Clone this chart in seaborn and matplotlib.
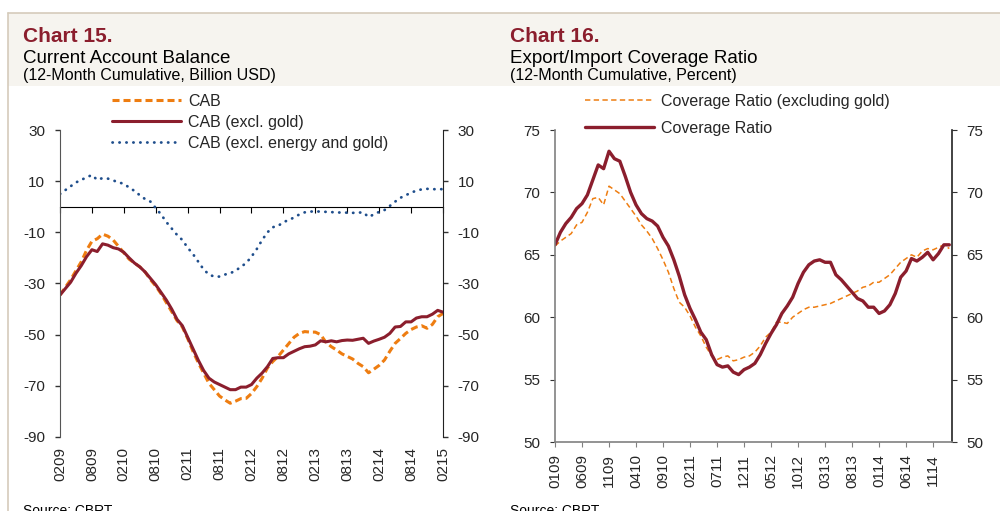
import matplotlib
matplotlib.use('Agg')
import matplotlib.pyplot as plt
import seaborn as sns
import pandas as pd
import numpy as np
from matplotlib.patches import Rectangle
from matplotlib.lines import Line2D

sns.set_style('white')
plt.rcParams['font.family'] = ['Liberation Sans', 'DejaVu Sans']
plt.rcParams['axes.unicode_minus'] = False

COLOR_RED = '#8B1E2D'
COLOR_ORANGE = '#EE7D11'
COLOR_BLUE = '#1F4E8C'
COLOR_HEADER = '#F6F4EF'
COLOR_BORDER = '#D5CBBB'
COLOR_GRAY = '#808080'

# ----------------------------------------------------
# Chart 15: Current Account Balance (monthly, 02/2009 - 02/2015)
# ----------------------------------------------------
cab = [-34.5, -31.5, -28.5, -25, -21.5, -17, -13.5, -12.5, -10.7, -11.5, -13, -15.5,
       -18, -20.5, -22, -23.5, -25.5, -28.5, -31, -34, -37.5, -41, -44.5, -47,
       -51.5, -56.5, -61, -65, -69, -71.5, -74, -75.5, -76.8, -76, -75, -74.9,
       -73, -70.3, -67, -63, -60.5, -58.5, -56, -53.5, -51, -49.5, -48.8, -49,
       -49, -50, -53, -54.7, -56, -57.5, -58.5, -59.5, -61.2, -62.5, -64.9, -63.5,
       -62, -59.9, -56.5, -53.4, -51.5, -49.5, -48, -47, -46.5, -47.5, -46, -43, -41.7]
cab_ex_gold = [-34.5, -32, -29.5, -26, -23, -19.5, -16.8, -17.5, -14.5, -15, -16, -16.5,
               -17.8, -20, -22, -23.5, -25.5, -28, -30.5, -33.5, -36.5, -40, -44, -46.5,
               -51, -55.5, -60, -64, -67, -68.5, -69.5, -70.5, -71.5, -71.5, -70.5, -70.5,
               -69.5, -67, -65, -62.5, -59.3, -59, -59, -57.5, -56.5, -55.5, -54.7, -54.5,
               -54, -52.4, -52.8, -52.4, -52.8, -52.3, -52.1, -52.2, -51.8, -51.4, -53.4, -52.5,
               -51.8, -51, -49.5, -47, -46.8, -45, -45, -43.5, -43, -43, -42, -40.5, -41.2]
cab_ex_energy_gold = [5, 6.5, 8, 9.5, 10.5, 11.5, 12.4, 10.5, 11.2, 11, 10.3, 9.5,
                      9, 7.5, 6.2, 4.5, 3, 2, -0.5, -3, -6, -8.5, -11, -13,
                      -16, -18.5, -21.5, -24.5, -26.5, -27.3, -27.3, -26.5, -26, -25, -23.5, -22,
                      -19.5, -16.5, -13, -10, -8, -7.5, -6, -5.2, -4.2, -3, -2.2, -1.9,
                      -1.8, -1.9, -2, -2.1, -2.2, -2.3, -2.3, -2.4, -2.3, -2.2, -4, -3,
                      -2, -1.3, 0.3, 2, 3.5, 4.5, 5.5, 6.3, 6.8, 7, 6.9, 6.8, 6.9]
cab_ticklabels = ['0209', '0809', '0210', '0810', '0211', '0811', '0212',
                  '0812', '0213', '0813', '0214', '0814', '0215']

# ----------------------------------------------------
# Chart 16: Export/Import Coverage Ratio (monthly, 01/2009 - 02/2015)
# ----------------------------------------------------
cov_ex_gold = [65.7, 66.1, 66.4, 66.7, 67.4, 67.6, 68.4, 69.5, 69.6, 69, 70.5, 70.2,
               69.9, 69.3, 68.7, 68.1, 67.4, 66.9, 66.3, 65.5, 64.6, 63.6, 62.3, 61.2,
               60.8, 60.1, 59.2, 58.5, 57.6, 56.9, 56.6, 56.8, 56.9, 56.5, 56.6, 56.8,
               56.9, 57.2, 57.7, 58.4, 58.8, 59.6, 59.6, 59.5, 60, 60.3, 60.6, 60.8,
               60.8, 60.9, 61, 61.1, 61.3, 61.5, 61.7, 61.9, 62.1, 62.4, 62.5, 62.8,
               62.8, 63.1, 63.4, 63.9, 64.4, 64.7, 65, 64.8, 65.3, 65.5, 65.4, 65.6, 65.8, 65.5]
cov = [65.8, 66.8, 67.5, 68, 68.7, 69.1, 69.8, 71, 72.2, 71.9, 73.3, 72.7,
       72.5, 71.3, 70, 69, 68.3, 67.9, 67.7, 67.3, 66.4, 65.7, 64.6, 63.3,
       61.8, 60.7, 59.8, 58.8, 58.2, 57, 56.2, 56, 56.1, 55.6, 55.4, 55.8,
       56, 56.3, 57, 57.9, 58.7, 59.4, 60.3, 60.9, 61.6, 62.7, 63.6, 64.2,
       64.5, 64.6, 64.4, 64.4, 63.4, 63, 62.5, 62, 61.5, 61.3, 60.8, 60.8,
       60.3, 60.5, 61, 61.9, 63.2, 63.7, 64.7, 64.5, 64.8, 65.2, 64.6, 65.1, 65.8, 65.8]
cov_ticklabels = ['0109', '0609', '1109', '0410', '0910', '0211', '0711', '1211',
                  '0512', '1012', '0313', '0813', '0114', '0614', '1114']

H = 511.0
fig = plt.figure(figsize=(10, 5.11), dpi=100)

# header band and frame
fig.patches.append(Rectangle((0.008, 1 - 86 / H), 0.992, 73 / H, transform=fig.transFigure,
                             facecolor=COLOR_HEADER, edgecolor='none', zorder=0))
fig.add_artist(Line2D([0.008, 1], [1 - 13 / H] * 2, color=COLOR_BORDER, lw=1.2))
fig.add_artist(Line2D([0.008, 0.008], [0, 1 - 13 / H], color=COLOR_BORDER, lw=1.2))

# titles
for x0, num, title, sub in [(0.023, 'Chart 15.', 'Current Account Balance', '(12-Month Cumulative, Billion USD)'),
                            (0.510, 'Chart 16.', 'Export/Import Coverage Ratio', '(12-Month Cumulative, Percent)')]:
    fig.text(x0, 1 - 42 / H, num, fontsize=15, fontweight='bold', color=COLOR_RED, va='baseline')
    fig.text(x0, 1 - 63 / H, title, fontsize=13.5, color='black', va='baseline')
    fig.text(x0, 1 - 80 / H, sub, fontsize=11.5, color='black', va='baseline')
    fig.text(x0, 1 - 504 / H, 'Source: CBRT', fontsize=10, color='black', va='top')

# ---------------- left chart ----------------
ax1 = fig.add_axes([0.060, 1 - 437 / H, 0.383, 307 / H])
df1 = pd.DataFrame({'month': np.arange(len(cab)), 'CAB': cab,
                    'CAB (excl. gold)': cab_ex_gold,
                    'CAB (excl. energy and gold)': cab_ex_energy_gold})
sns.lineplot(data=df1, x='month', y='CAB', ax=ax1, color=COLOR_ORANGE, lw=2.2,
             linestyle=(0, (2.3, 1.3)), label='CAB')
sns.lineplot(data=df1, x='month', y='CAB (excl. gold)', ax=ax1, color=COLOR_RED, lw=2.2,
             label='CAB (excl. gold)')
sns.lineplot(data=df1, x='month', y='CAB (excl. energy and gold)', ax=ax1, color=COLOR_BLUE,
             lw=2.0, linestyle=(0, (0.1, 2.4)), dash_capstyle='round',
             label='CAB (excl. energy and gold)')

ax1.set_xlim(0, len(cab) - 1)
ax1.set_ylim(-90, 30)
ax1.set_yticks(np.arange(-90, 31, 20))
ax1.set_xticks(np.arange(0, len(cab), 6))
ax1.set_xticklabels(cab_ticklabels, rotation=90)
ax1.set_xlabel('')
ax1.set_ylabel('')
ax1.tick_params(axis='x', length=0, pad=7, labelsize=11)
ax1.tick_params(axis='y', left=True, right=True, labelleft=True, labelright=True,
                direction='out', length=3.6, width=1, pad=7, labelsize=11, color='#333333')
for s in ['top', 'bottom']:
    ax1.spines[s].set_visible(False)
ax1.spines['left'].set_color('#555555')
ax1.spines['right'].set_color('#222222')

# zero line with month ticks
sec = ax1.secondary_xaxis(90 / 120)
sec.set_xticks(np.arange(0, len(cab), 6))
sec.tick_params(axis='x', direction='in', length=4, color='black', labeltop=False, labelbottom=False)
sec.spines['top'].set_color('black')

ax1.legend(loc='upper left', bbox_to_anchor=(0.112, 1 - 94 / H), bbox_transform=fig.transFigure,
           frameon=False, fontsize=11.5, handlelength=4.3, handletextpad=0.45,
           labelspacing=0.37, borderpad=0, borderaxespad=0)

# ---------------- right chart ----------------
ax2 = fig.add_axes([0.555, 1 - 442 / H, 0.397, 312 / H])
df2 = pd.DataFrame({'month': np.arange(len(cov)),
                    'Coverage Ratio (excluding gold)': cov_ex_gold,
                    'Coverage Ratio': cov})
sns.lineplot(data=df2, x='month', y='Coverage Ratio (excluding gold)', ax=ax2, color=COLOR_ORANGE,
             lw=1.1, linestyle=(0, (3.5, 2.2)), label='Coverage Ratio (excluding gold)')
sns.lineplot(data=df2, x='month', y='Coverage Ratio', ax=ax2, color=COLOR_RED, lw=2.4,
             label='Coverage Ratio')

ax2.set_xlim(0, len(cov) - 0.5)
ax2.set_ylim(50, 75)
ax2.set_yticks(np.arange(50, 76, 5))
ax2.set_xticks(np.arange(0, 71, 5))
ax2.set_xticklabels(cov_ticklabels, rotation=90)
ax2.set_xlabel('')
ax2.set_ylabel('')
ax2.tick_params(axis='x', bottom=True, direction='out', length=3.5, pad=5, labelsize=11, color=COLOR_GRAY)
ax2.tick_params(axis='y', left=True, right=True, labelleft=True, labelright=True,
                direction='out', length=3.6, pad=7, labelsize=11, color='#333333')
ax2.spines['top'].set_visible(False)
ax2.spines['left'].set_color(COLOR_GRAY)
ax2.spines['bottom'].set_color(COLOR_GRAY)
ax2.spines['right'].set_color('#222222')
for s in ['left', 'bottom', 'right']:
    ax2.spines[s].set_linewidth(1.2)

ax2.legend(loc='upper left', bbox_to_anchor=(0.585, 1 - 94 / H), bbox_transform=fig.transFigure,
           frameon=False, fontsize=11.5, handlelength=4.3, handletextpad=0.45,
           labelspacing=0.75, borderpad=0, borderaxespad=0)

fig.savefig('out.png', dpi=100)
plt.close(fig)
